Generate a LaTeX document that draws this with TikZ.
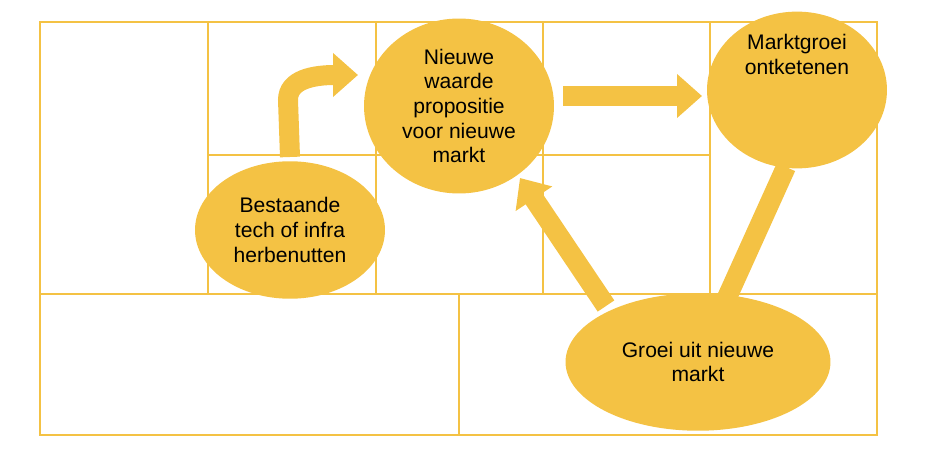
\documentclass[tikz,border=0pt]{standalone}
\usepackage{fontspec}
\setmainfont{Liberation Sans}
\usetikzlibrary{positioning, arrows.meta, shapes.geometric}
\definecolor{goud}{HTML}{F4C244}
\tikzstyle{grid} = [draw=goud, line width=1.2pt]
\tikzstyle{bubble} = [ellipse, fill=goud, inner sep=0pt, text centered, align=center, font=\fontsize{12}{14}\selectfont]
\tikzstyle{fatarrow} = [goud, line width=0.4cm, -{Triangle[length=0.5cm, width=0.85cm]}]
\tikzstyle{fatbar} = [goud, line width=0.4cm]

\begin{document}
\begin{tikzpicture}[x=0.02cm, y=-0.02cm]
        \useasboundingbox (0,0) rectangle (940,452);
        % grid of the canvas
        \draw [grid] (40,22) rectangle (877,435);
        \draw [grid] (40,294) -- (877,294);
        \draw [grid] (459,294) -- (459,435);
        \draw [grid] (208,22) -- (208,294);
        \draw [grid] (376,22) -- (376,294);
        \draw [grid] (543,22) -- (543,294);
        \draw [grid] (710,22) -- (710,294);
        \draw [grid] (208,155) -- (710,155);

        \node (propositie) [bubble, minimum width=3.8cm, minimum height=3.5cm] at (459,106) {Nieuwe\\waarde\\propositie\\voor nieuwe\\markt};
        \node (marktgroei) [bubble, minimum width=3.6cm, minimum height=3cm] at (797,90) {Marktgroei\\ontketenen\\[2.2em]};
        \node (bestaande) [bubble, minimum width=3.8cm, minimum height=2.75cm] at (290,230) {Bestaande\\tech of infra\\herbenutten};
        \node (groei) [bubble, minimum width=5.3cm, minimum height=2.75cm] at (698,362) {Groei uit nieuwe\\markt};

        \coordinate (bocht) at (288,100);
        \coordinate (groeistart) at (606,306);
        \coordinate (groeibar) at (725,302);
        \draw [fatarrow] (bestaande.north |- 0,157) -- (bocht) to[out=90, in=180] (335,75) -- (358,75);
        \draw [fatarrow] (563,96) -- (702,96);
        \draw [fatarrow] (groeistart) -- (520,178);
        \draw [fatbar] (groeibar) -- (786,167);
\end{tikzpicture}
\end{document}
